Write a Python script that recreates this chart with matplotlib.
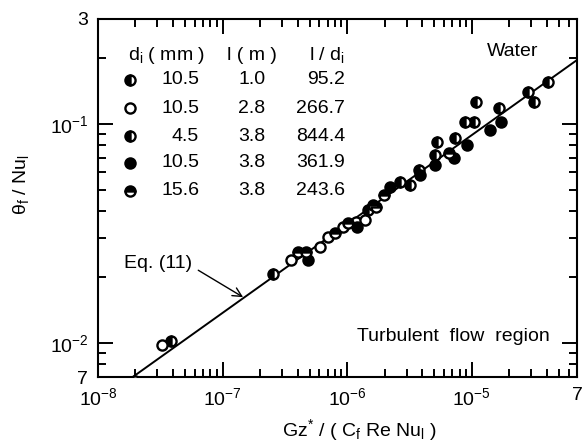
import matplotlib
matplotlib.use('Agg')
import matplotlib.pyplot as plt
from matplotlib.ticker import LogLocator, NullFormatter

plt.rcParams['font.family'] = ['Liberation Sans', 'DejaVu Sans']
plt.rcParams['mathtext.fontset'] = 'custom'
plt.rcParams['mathtext.rm'] = 'Liberation Sans'
plt.rcParams['mathtext.it'] = 'Liberation Sans:italic'
plt.rcParams['mathtext.bf'] = 'Liberation Sans:bold'

# data
# d_i = 10.5 mm, l = 1.0 m
s1_x = [3.88e-8, 2.56e-7, 5.26e-6, 7.31e-6, 1.09e-5, 1.67e-5, 2.84e-5, 3.16e-5, 4.09e-5]
s1_y = [1.02e-2, 2.07e-2, 8.28e-2, 8.63e-2, 1.26e-1, 1.18e-1, 1.39e-1, 1.25e-1, 1.55e-1]
# d_i = 10.5 mm, l = 2.8 m
s2_x = [1.97e-8, 3.29e-8, 3.56e-7, 6.05e-7, 7.02e-7, 9.23e-7, 1.17e-6, 1.38e-6]
s2_y = [6.7e-3, 9.8e-3, 2.39e-2, 2.74e-2, 3.05e-2, 3.39e-2, 3.57e-2, 3.65e-2]
# d_i = 4.5 mm, l = 3.8 m
s3_x = [1.46e-6, 2.67e-6, 3.21e-6, 3.79e-6, 5.07e-6, 8.79e-6, 1.04e-5]
s3_y = [4.05e-2, 5.43e-2, 5.26e-2, 6.17e-2, 7.22e-2, 1.02e-1, 1.02e-1]
# d_i = 10.5 mm, l = 3.8 m
s4_x = [4.87e-7, 1.21e-6, 2.22e-6, 3.86e-6, 5.07e-6, 7.18e-6, 9.1e-6, 1.39e-5, 1.73e-5]
s4_y = [2.39e-2, 3.39e-2, 5.15e-2, 5.85e-2, 6.50e-2, 7.0e-2, 8.02e-2, 9.4e-2, 1.02e-1]
# d_i = 15.6 mm, l = 3.8 m
s5_x = [4.05e-7, 4.69e-7, 7.96e-7, 1.01e-6, 1.60e-6, 1.69e-6, 1.99e-6, 6.55e-6]
s5_y = [2.60e-2, 2.60e-2, 3.18e-2, 3.53e-2, 4.27e-2, 4.18e-2, 4.74e-2, 7.37e-2]

# Eq. (11) end points
eq_x = [1.9e-8, 7e-5]
eq_y = [7.0e-3, 0.195]

table_di = ['10.5', '10.5', '4.5', '10.5', '15.6']
table_l = ['1.0', '2.8', '3.8', '3.8', '3.8']
table_ld = ['95.2', '266.7', '844.4', '361.9', '243.6']

FS = 14

fig = plt.figure(figsize=(5.86, 4.46), dpi=100)
ax = fig.add_axes([0.1672, 0.1547, 0.8174, 0.8027])

ax.plot(eq_x, eq_y, color='black', lw=1.4, zorder=2)

styles = [
    dict(fillstyle='left', markerfacecolor='black', markerfacecoloralt='white'),
    dict(fillstyle='full', markerfacecolor='white'),
    dict(fillstyle='left', markerfacecolor='black', markerfacecoloralt='white'),
    dict(fillstyle='full', markerfacecolor='black'),
    dict(fillstyle='top', markerfacecolor='black', markerfacecoloralt='white'),
]
series = [(s1_x, s1_y), (s2_x, s2_y), (s3_x, s3_y), (s4_x, s4_y), (s5_x, s5_y)]
for (sx, sy), st in zip(series, styles):
    ax.plot(sx, sy, ls='none', marker='o', ms=7.3, mec='black', mew=1.7, zorder=3, **st)

ax.set_xscale('log')
ax.set_yscale('log')
ax.set_xlim(1e-8, 7e-5)
ax.set_ylim(7e-3, 3e-1)

ax.set_xticks([1e-8, 1e-7, 1e-6, 1e-5, 7e-5])
ax.set_xticklabels([r'$10^{-8}$', r'$10^{-7}$', r'$10^{-6}$', r'$10^{-5}$', '7'])
ax.set_yticks([7e-3, 1e-2, 1e-1, 3e-1])
ax.set_yticklabels(['7', r'$10^{-2}$', r'$10^{-1}$', '3'])
ax.xaxis.set_minor_locator(LogLocator(base=10, subs=range(2, 10), numticks=20))
ax.yaxis.set_minor_locator(LogLocator(base=10, subs=range(2, 10), numticks=20))
ax.xaxis.set_minor_formatter(NullFormatter())
ax.yaxis.set_minor_formatter(NullFormatter())

ax.tick_params(which='both', direction='in', top=True, right=True, width=1.4, labelsize=FS, pad=7)
ax.tick_params(which='major', length=11)
ax.tick_params(which='minor', length=5.5)
for sp in ax.spines.values():
    sp.set_linewidth(1.5)

# legend table
head_y = 0.899
rows_y = [0.830, 0.751, 0.673, 0.598, 0.520]
ax.text(0.144, head_y, r'd$_{\rm i}$ ( mm )', transform=ax.transAxes, ha='center', va='center', fontsize=FS)
ax.text(0.321, head_y, 'l ( m )', transform=ax.transAxes, ha='center', va='center', fontsize=FS)
ax.text(0.516, head_y, r'l / d$_{\rm i}$', transform=ax.transAxes, ha='right', va='center', fontsize=FS)
for i, st in enumerate(styles):
    ax.plot([0.067], [rows_y[i]], transform=ax.transAxes, ls='none', marker='o', ms=7.3,
            mec='black', mew=1.7, clip_on=False, **st)
    ax.text(0.211, rows_y[i], table_di[i], transform=ax.transAxes, ha='right', va='center', fontsize=FS)
    ax.text(0.321, rows_y[i], table_l[i], transform=ax.transAxes, ha='center', va='center', fontsize=FS)
    ax.text(0.516, rows_y[i], table_ld[i], transform=ax.transAxes, ha='right', va='center', fontsize=FS)

ax.text(0.866, 0.908, 'Water', transform=ax.transAxes, ha='center', va='center', fontsize=FS)
ax.text(0.743, 0.112, 'Turbulent  flow  region', transform=ax.transAxes, ha='center', va='center', fontsize=FS)

ax.annotate('Eq. (11)', xy=(0.303, 0.223), xytext=(0.125, 0.316),
            xycoords='axes fraction', textcoords='axes fraction',
            ha='center', va='center', fontsize=FS,
            arrowprops=dict(arrowstyle='->', lw=1.0, color='black', relpos=(1.0, 0.35),
                            shrinkA=3, shrinkB=0, mutation_scale=16))

fig.text(0.036, 0.587, r'θ$_{\rm f}$ / Nu$_{\rm l}$', rotation=90, ha='center', va='center', fontsize=FS)
fig.text(0.614, 0.035, r'Gz$^{*}$ / ( C$_{\rm f}$ Re Nu$_{\rm l}$ )', ha='center', va='center', fontsize=FS)

fig.savefig('out.png', dpi=100)
